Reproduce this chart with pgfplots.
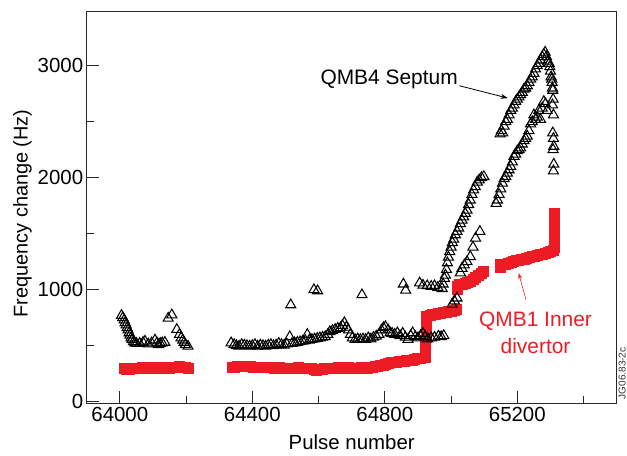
\documentclass[border=0pt]{standalone}
\usepackage{pgfplots}
\pgfplotsset{compat=1.18}
\usepackage{fontspec}
\setmainfont{Liberation Sans}
\usetikzlibrary{arrows.meta}
\definecolor{qred}{RGB}{237,28,36}
\begin{document}
\begin{tikzpicture}
\path[use as bounding box] (-86.7bp,-52.7bp) rectangle (540.3bp,403.3bp);
\begin{axis}[
 at={(0,0)}, anchor=south west,
 scale only axis, width=530bp, height=391.6bp,
 xmin=63900, xmax=65500, ymin=-14, ymax=3482,
 xtick={64000,64400,64800,65200},
 minor xtick={64200,64600,65000,65400},
 ytick={0,1000,2000,3000},
 minor ytick={500,1500,2500},
 scaled ticks=false,
 /pgf/number format/1000 sep={},
 /pgf/number format/assume math mode=true,
 tick align=inside, tick pos=left,
 major tick length=12bp, minor tick length=7bp,
 tick style={black!85, line width=1bp},
 minor tick style={black!85, line width=1bp},
 axis line style={black!85, line width=1bp},
 ticklabel style={font=\fontsize{20.5}{24}\selectfont},
 xlabel={Pulse number}, ylabel={Frequency change (Hz)},
 xlabel style={font=\fontsize{20.5}{24}\selectfont, at={(axis description cs:0.5,-0.0996)}, anchor=center},
 ylabel style={font=\fontsize{20}{24}\selectfont, at={(axis description cs:-0.1211,0.4847)}, anchor=center},
]
\addplot[only marks, mark=square*, mark size=5bp, color=qred, mark options={draw=none, fill=qred}] table {
x y
64012 300
64020 292
64028 290
64036 296
64044 300
64052 298
64060 303
64068 305
64076 300
64084 306
64092 304
64100 300
64108 306
64116 302
64124 298
64132 300
64140 305
64148 300
64156 304
64164 310
64172 306
64180 314
64188 312
64196 306
64206 300
64340 310
64346 312
64354 315
64362 316
64370 318
64378 315
64386 320
64394 318
64402 312
64410 310
64418 308
64426 310
64434 306
64442 308
64450 305
64458 306
64466 302
64474 305
64482 304
64490 300
64498 302
64506 300
64514 298
64522 300
64530 302
64538 305
64546 300
64554 298
64562 300
64570 302
64578 296
64586 290
64594 285
64602 288
64610 292
64618 295
64626 300
64634 298
64642 302
64650 300
64658 304
64666 300
64674 298
64682 302
64690 305
64698 300
64706 298
64714 302
64722 300
64730 304
64738 306
64746 300
64754 305
64762 310
64770 315
64778 320
64786 325
64794 330
64802 338
64810 345
64818 350
64826 352
64834 355
64842 358
64850 362
64858 365
64866 370
64874 372
64882 375
64890 380
64898 385
64906 390
64922 400
64922 430
64922 460
64922 490
64922 520
64922 550
64924 580
64924 610
64924 640
64924 670
64924 700
64924 730
64924 760
64936 775
64944 778
64952 782
64960 786
64968 790
64976 796
64984 800
64992 806
65000 812
65008 816
65016 822
65018 1005
65018 1035
65026 1045
65034 1052
65042 1060
65050 1068
65058 1077
65066 1090
65074 1110
65082 1130
65090 1150
65098 1168
65149 1205
65149 1232
65156 1225
65164 1232
65172 1240
65180 1248
65188 1255
65196 1262
65204 1266
65212 1270
65220 1275
65228 1280
65236 1288
65244 1295
65252 1302
65260 1308
65268 1315
65276 1320
65284 1326
65292 1332
65300 1340
65308 1350
65310 1380
65310 1410
65310 1440
65310 1470
65310 1500
65310 1560
65310 1590
65310 1620
65310 1650
65310 1680
};
\addplot[only marks, mark=triangle, mark size=5.8bp, black, mark options={line width=1.05bp}] table {
x y
64005 770
64009 750
64013 730
64016 705
64019 685
64022 660
64025 640
64028 615
64031 595
64034 570
64037 555
64041 535
64045 525
64050 520
64060 520
64070 530
64076 540
64086 515
64096 525
64106 550
64112 525
64117 510
64122 520
64128 525
64136 530
64146 745
64157 775
64172 645
64180 600
64185 570
64190 550
64194 530
64198 510
64206 495
64336 525
64345 510
64352 500
64360 495
64368 510
64376 505
64384 500
64392 495
64400 500
64408 510
64416 495
64424 505
64432 500
64440 495
64448 505
64456 510
64464 500
64472 505
64480 520
64488 510
64496 505
64504 515
64513 580
64520 520
64528 525
64536 530
64544 535
64552 540
64560 545
64566 600
64572 550
64580 555
64588 560
64596 565
64604 570
64612 575
64620 580
64628 600
64634 625
64642 635
64650 645
64658 655
64666 660
64672 680
64678 705
64684 665
64690 640
64696 600
64702 570
64710 555
64718 560
64726 555
64734 560
64742 555
64750 570
64758 560
64766 575
64774 585
64782 600
64790 640
64796 660
64802 670
64810 640
64816 615
64822 610
64830 600
64838 615
64846 590
64854 610
64862 575
64870 555
64878 590
64884 615
64892 580
64900 570
64908 590
64915 610
64922 580
64930 560
64940 570
64950 575
64962 585
64970 580
64978 590
64516 865
64586 1000
64597 990
64731 955
64856 1050
64863 995
64905 1060
64915 1040
64928 1035
64940 1030
64950 1035
64960 1020
64973 1010
64976 1050
64980 1100
64983 1130
64986 1180
64989 1240
64992 1290
64996 1340
65000 1380
65004 1420
65008 1450
65013 1490
65018 1520
65023 1550
65028 1590
65033 1620
65038 1650
65043 1680
65048 1710
65053 1760
65058 1800
65063 1850
65068 1890
65073 1920
65079 1960
65085 1980
65092 2000
65099 2010
65003 870
65010 900
65018 925
65028 1150
65033 1190
65040 1220
65048 1250
65058 1295
65066 1380
65074 1460
65087 1520
65136 1770
65140 1800
65145 1850
65150 1900
65155 1950
65160 1990
65165 2010
65170 2040
65175 2070
65180 2100
65185 2140
65190 2190
65195 2210
65200 2240
65205 2250
65210 2265
65215 2300
65220 2330
65225 2350
65230 2370
65235 2420
65240 2480
65245 2500
65250 2560
65255 2520
65260 2540
65265 2600
65270 2520
65275 2620
65280 2680
65285 2660
65290 2600
65148 2390
65152 2420
65156 2400
65160 2460
65165 2500
65170 2520
65175 2560
65180 2600
65185 2620
65190 2650
65195 2680
65200 2700
65205 2720
65210 2740
65215 2760
65220 2790
65225 2800
65230 2820
65235 2850
65240 2880
65245 2900
65250 2930
65255 2970
65260 3000
65265 3020
65270 3050
65275 3080
65280 3100
65284 3120
65288 3080
65292 3040
65296 3020
65298 2990
65300 2950
65302 2900
65304 2880
65305 2850
65306 2800
65307 2780
65308 2700
65306 2650
65309 2560
65307 2400
65309 2350
65310 2280
65308 2250
65310 2120
65309 2060
};
\node[font=\fontsize{21}{24}\selectfont] at (axis cs:64813,2875) {QMB4 Septum};
\draw[-{Stealth[length=7bp,width=5bp]}, line width=0.8bp] (axis cs:65025,2821) -- (axis cs:65171,2711);
\node[qred, font=\fontsize{21}{26.7}\selectfont, align=center] at (axis cs:65255,613) {QMB1 Inner\\divertor};
\draw[qred, -{Stealth[length=6bp,width=4bp]}, line width=0.6bp] (axis cs:65226,911) -- (axis cs:65204,1149);
\end{axis}
\node[rotate=90, inner sep=0pt, font=\fontsize{10}{11}\selectfont, color=black!80] at (535.5bp,30bp) {JG06.83-2c};
\end{tikzpicture}
\end{document}
